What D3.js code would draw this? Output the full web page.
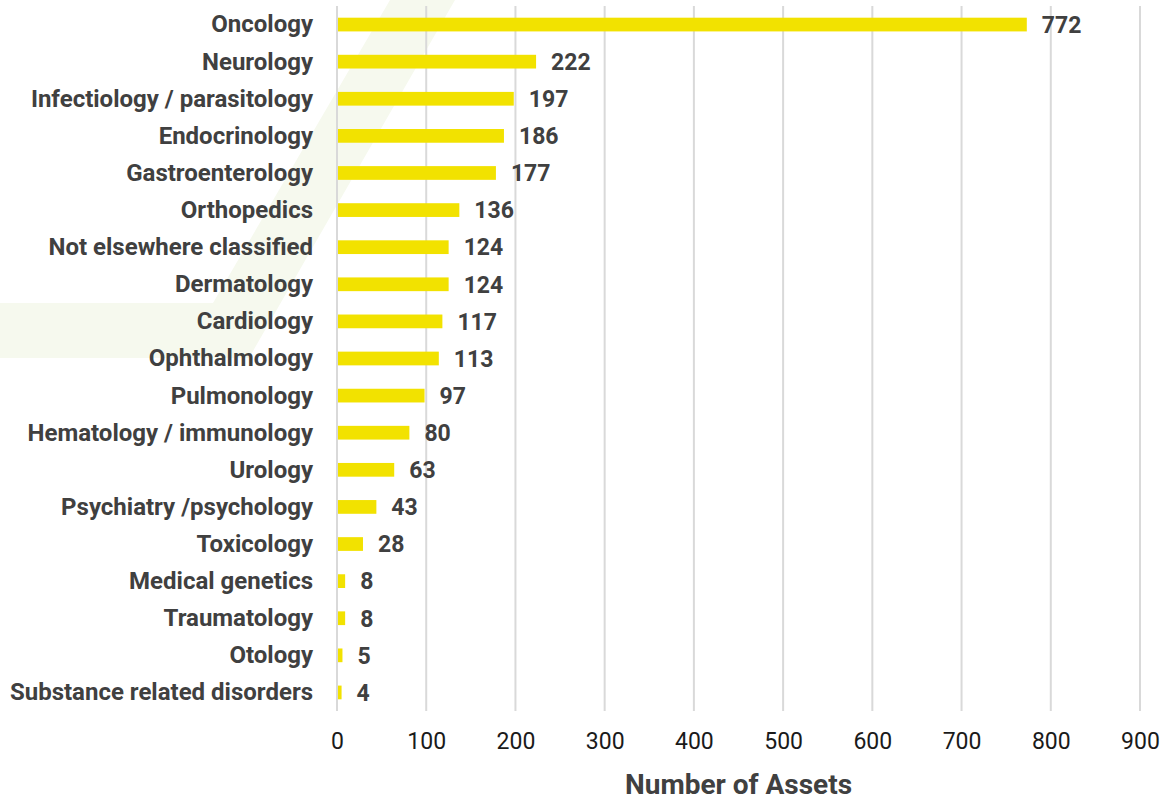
<!DOCTYPE html>
<html>
<head>
<meta charset="utf-8">
<script src="https://cdn.jsdelivr.net/npm/d3@7"></script>
<style>
  html, body { margin: 0; padding: 0; background: #fff; }
  svg { display: block; }
</style>
</head>
<body>
<svg id="chart" width="1163" height="800"></svg>
<script>
const categories = [
  "Oncology", "Neurology", "Infectiology / parasitology", "Endocrinology",
  "Gastroenterology", "Orthopedics", "Not elsewhere classified", "Dermatology",
  "Cardiology", "Ophthalmology", "Pulmonology", "Hematology / immunology",
  "Urology", "Psychiatry /psychology", "Toxicology", "Medical genetics",
  "Traumatology", "Otology", "Substance related disorders"
];
const values = [772, 222, 197, 186, 177, 136, 124, 124, 117, 113, 97, 80, 63, 43, 28, 8, 8, 5, 4];
const xTicks = [0, 100, 200, 300, 400, 500, 600, 700, 800, 900];
const xTitle = "Number of Assets";

const svg = d3.select("#chart");
const margin = { left: 337, right: 23, top: 6, bottom: 89 };
const W = 1163, H = 800;

// watermark
svg.append("polygon")
  .attr("points", "0,303 213,303 390,0 455,0 249,358 0,358")
  .attr("fill", "#f6f9ee");

const x = d3.scaleLinear().domain([0, 900]).range([margin.left, W - margin.right]);
const y = d3.scaleBand().domain(categories).range([margin.top, H - margin.bottom]).paddingInner(0.63).paddingOuter(0.315);

// gridlines
svg.append("g").selectAll("line").data(xTicks).join("line")
  .attr("x1", d => x(d)).attr("x2", d => x(d))
  .attr("y1", margin.top).attr("y2", H - margin.bottom)
  .attr("stroke", "#d9d9d9").attr("stroke-width", 2);

// bars
svg.append("g").selectAll("rect").data(values).join("rect")
  .attr("x", x(0) + 1)
  .attr("y", (d, i) => y(categories[i]))
  .attr("width", d => x(d) - x(0))
  .attr("height", y.bandwidth())
  .attr("fill", "#f2e200");

// value labels
svg.append("g").selectAll("text").data(values).join("text")
  .attr("x", d => x(d) + 16)
  .attr("y", (d, i) => y(categories[i]) + y.bandwidth() / 2)
  .attr("dy", "0.36em")
  .attr("font-family", "Roboto")
  .attr("font-weight", "bold")
  .attr("font-size", 23)
  .attr("fill", "#404040")
  .text(d => d);

// category axis
const yAxis = svg.append("g")
  .attr("transform", `translate(${margin.left - 24},0)`)
  .call(d3.axisLeft(y).tickSize(0).tickPadding(0));
yAxis.select(".domain").remove();
yAxis.selectAll("text")
  .attr("font-family", "Roboto")
  .attr("font-weight", "bold")
  .attr("font-size", 24)
  .attr("dy", "0.33em")
  .attr("fill", "#404040");

// x axis
const xAxis = svg.append("g")
  .attr("transform", `translate(0,${H - margin.bottom})`)
  .call(d3.axisBottom(x).tickValues(xTicks).tickSize(0).tickPadding(0));
xAxis.select(".domain").remove();
xAxis.selectAll("text")
  .attr("font-family", "Roboto")
  .attr("font-size", 23)
  .attr("dy", "0")
  .attr("y", 749 - (H - margin.bottom))
  .attr("fill", "#1a1a1a");

svg.append("text")
  .attr("x", (x(0) + x(900)) / 2)
  .attr("y", 794)
  .attr("text-anchor", "middle")
  .attr("font-family", "Roboto")
  .attr("font-weight", "bold")
  .attr("font-size", 28)
  .attr("fill", "#404040")
  .text(xTitle);
</script>
</body>
</html>
